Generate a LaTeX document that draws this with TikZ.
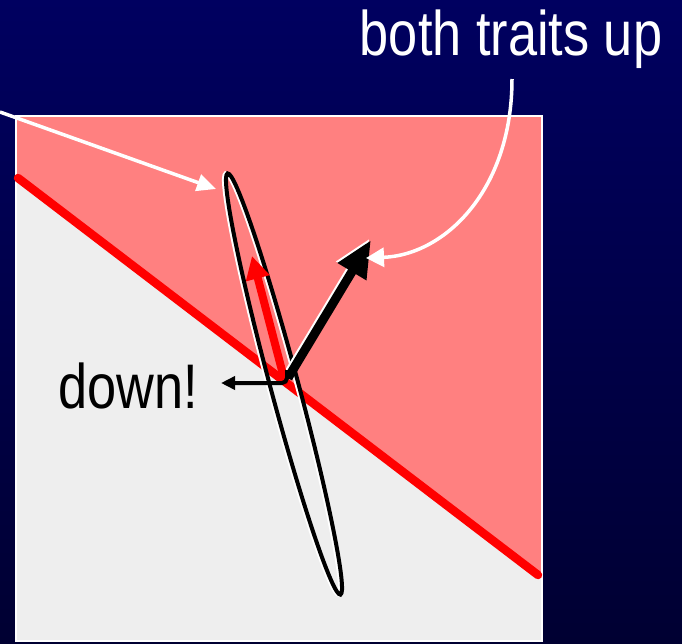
\documentclass[tikz,border=0pt]{standalone}
\usepackage{fontspec}
\setmainfont{Liberation Sans}[FakeStretch=0.83]
\usetikzlibrary{arrows.meta}
\definecolor{navy}{RGB}{0,0,96}
\definecolor{deepnavy}{RGB}{0,0,50}
\definecolor{upzone}{RGB}{255,128,128}
\definecolor{downzone}{RGB}{238,238,238}

\begin{document}
\begin{tikzpicture}[x=1pt, y=-1pt,
    bigtext/.style={font=\fontsize{63}{63}\selectfont, inner sep=0pt, anchor=base},
    pointer/.style={-{Triangle[length=19pt, width=17pt]}, white, line width=3.5pt},
    fitness/.style={-{Triangle[length=37pt, width=31pt]}, line width=9pt},
    response/.style={-{Triangle[length=23pt, width=23pt]}, red, line width=8pt},
    hook/.style={-{Triangle[length=14pt, width=13pt]}, line width=4pt, rounded corners=5pt},
]
\useasboundingbox (0,0) rectangle (682,643);
\shade[top color=navy, bottom color=deepnavy] (0,0) rectangle (682,643);

% Trait space, split by the red line
\fill[downzone] (16,116) rectangle (542,641);
\fill[upzone] (16,116) -- (542,116) -- (542,578) -- (16,177) -- cycle;
\draw[white, line width=2.5pt] (16,116) rectangle (542,641);
\draw[red, line width=8.5pt, line cap=round] (18,178) -- (538,575);

% Covariance ellipse
\draw[white, line width=4pt] (282,384) ellipse [x radius=218, y radius=14, rotate=-75];
\draw[black, line width=4pt] (284,384) ellipse [x radius=218, y radius=14, rotate=-75];

% Labels
\node[bigtext, white] (both) at (511,55) {both traits up};
\node[bigtext] (down) at (128,408) {down!};

% Arrow ends
\coordinate (base) at (288,378);
\coordinate (tip) at (371,240);
\coordinate (redbase) at (285,382);
\coordinate (redtip) at (252,256);
\coordinate (hk) at (287,370);
\coordinate (hooktip) at (221,383);
\coordinate (offleft) at (0,112);
\coordinate (ellend) at (216,189);
\coordinate (bothstart) at (512,79);

% Vectors
\draw[fitness, white] ([xshift=-1.5pt, yshift=1.5pt]base) -- ([xshift=-1.5pt, yshift=1.5pt]tip);
\draw[fitness] (base) -- (tip);
\draw[response] (redbase) -- (redtip);
\draw[hook] (hk) |- (hooktip);

% Pointers
\draw[pointer] (offleft) -- (ellend);
\draw[pointer, -{Triangle[length=18pt, width=19pt]}] (bothstart) .. controls (512,190) and (445,255) .. (366,258);
\end{tikzpicture}
\end{document}
